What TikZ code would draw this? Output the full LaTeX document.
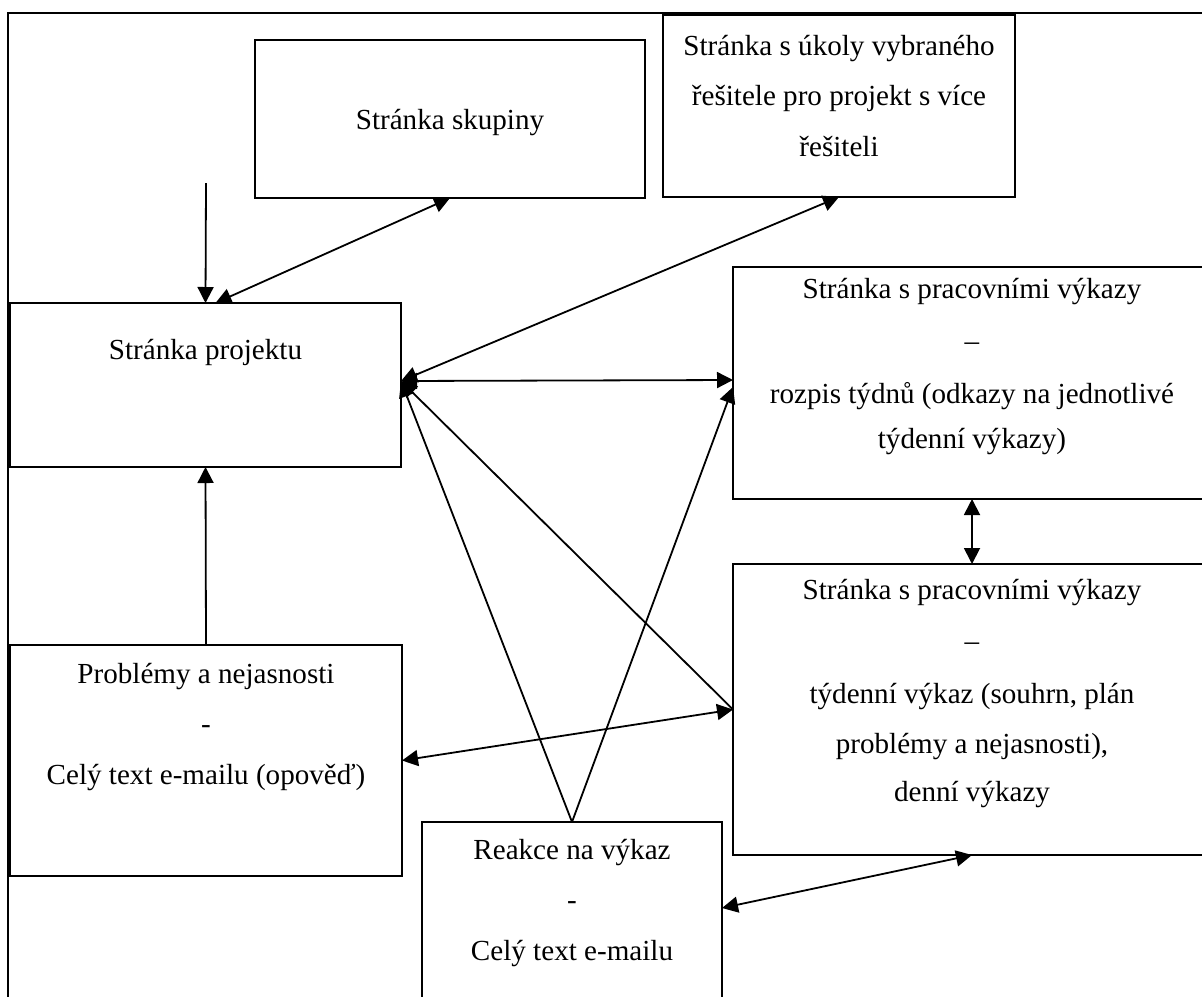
\documentclass[tikz,border=0pt]{standalone}
\usepackage{fontspec}
\setmainfont{Liberation Serif}
\usetikzlibrary{arrows.meta,calc}
\begin{document}
\begin{tikzpicture}[x=0.5pt,y={(0,-0.5pt)},
  box/.style={draw,line width=1.1pt,rectangle,inner sep=0pt,outer sep=0pt,anchor=north west},
  txt/.style={anchor=base,align=center,inner sep=0pt,font=\fontsize{14.55pt}{25.25pt}\selectfont},
  conn/.style={line width=0.9pt},
  tipend/.style={-{Triangle[length=8pt,width=8pt]}},
  tipboth/.style={{Triangle[length=8pt,width=8pt]}-{Triangle[length=8pt,width=8pt]}}]
\useasboundingbox (0,0) rectangle (1202,996);
\clip (0,0) rectangle (1202,996);
\fill[white] (0,0) rectangle (1202,996);
% outer frame (cut by the page)
\draw[line width=1.3pt] (8,1010) -- (8,13) -- (1215,13);
% boxes
\node[box,minimum width=195pt,minimum height=79pt] (skup) at (255,40) {};
\node[box,minimum width=176pt,minimum height=91pt] (ukoly) at (663,15) {};
\node[box,minimum width=195.5pt,minimum height=82pt] (proj) at (10,303) {};
\node[box,minimum width=239pt,minimum height=116pt] (b3) at (733,267) {};
\node[box,minimum width=239pt,minimum height=145.5pt] (b4) at (733,564) {};
\node[box,minimum width=196pt,minimum height=115.5pt] (prob) at (10,645) {};
\node[box,minimum width=150pt,minimum height=94pt] (reak) at (422,822) {};
% texts (anchor = baseline of the last line)
\node[txt] (tskup) at ($(skup.north)+(0,89)$) {Stránka skupiny};
\node[txt] (tukoly) at ($(ukoly.north)+(0,141)$) {Stránka s úkoly vybraného\\řešitele pro projekt s více\\řešiteli};
\node[txt] (tproj) at ($(proj.north)+(0,56)$) {Stránka projektu};
\node[txt] (tb3) at ($(b3.north)+(0,181)$) {Stránka s pracovními výkazy\\[0.8pt]–\\[1.2pt]rozpis týdnů (odkazy na jednotlivé\\[-2.8pt]týdenní výkazy)};
\node[txt] (tb4) at ($(b4.north)+(0,237)$) {Stránka s pracovními výkazy\\–\\[1.2pt]týdenní výkaz (souhrn, plán\\problémy a nejasnosti),\\[-1.5pt]denní výkazy};
\node[txt] (tprob) at ($(prob.north)+(0,139)$) {Problémy a nejasnosti\\-\\Celý text e-mailu (opověď)};
\node[txt] (treak) at ($(reak.north)+(0,138)$) {Reakce na výkaz\\-\\Celý text e-mailu};
% connectors
\coordinate (src) at (206,183);
\coordinate (pe) at ($(proj.east)+(0,-4)$);
\draw[conn,tipend] (src) -- (proj.north);
\draw[conn,tipboth] ($(proj.north)+(10,0)$) -- (skup.south);
\draw[conn,tipboth] (pe) -- (ukoly.south);
\draw[conn,tipboth] (pe) -- ($(b3.west)+(0,-3)$);
\draw[conn,tipend] (reak.north) -- (pe);
\draw[conn,tipend] (reak.north) -- ($(b3.west)+(0,4)$);
\draw[conn,tipend] (b4.west) -- (pe);
\draw[conn,tipboth] (prob.east) -- (b4.west);
\draw[conn,tipend] (prob.north) -- (proj.south);
\draw[conn,tipboth] (b3.south) -- (b4.north);
\draw[conn,tipboth] ($(reak.east)+(0,-8)$) -- (b4.south);
\end{tikzpicture}
\end{document}
